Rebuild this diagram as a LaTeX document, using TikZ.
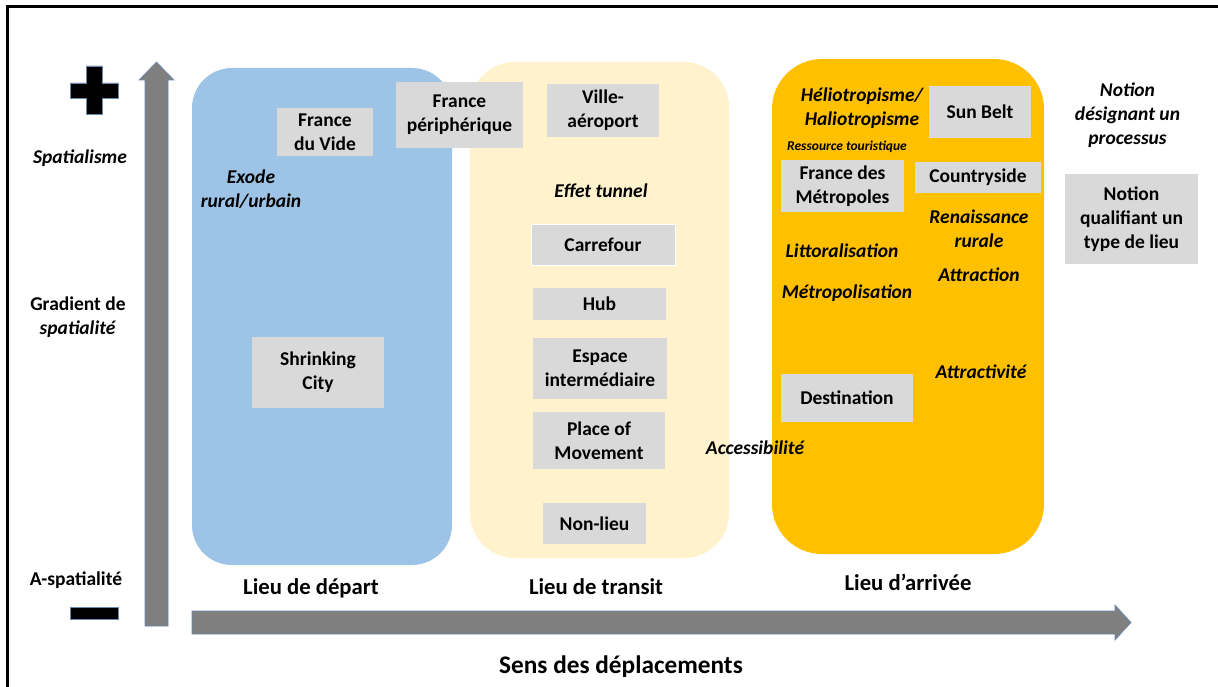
\documentclass[tikz,border=0pt]{standalone}
\usepackage{fontspec}
\setmainfont{Carlito}
\usepackage{tikz}
\definecolor{departblue}{RGB}{157,195,230}
\definecolor{transitcream}{RGB}{255,242,204}
\definecolor{arriveeorange}{RGB}{255,192,0}
\definecolor{notiongray}{RGB}{217,217,217}
\definecolor{blockgray}{RGB}{127,127,127}
\definecolor{blockedge}{RGB}{106,138,178}
\newcommand{\mainsize}{\fontsize{19.5}{24}\selectfont}
\tikzstyle{zone} = [rectangle, inner sep=0pt]
\tikzstyle{notion} = [rectangle, fill=notiongray, inner sep=0pt, align=center, font=\bfseries\mainsize]
\tikzstyle{process} = [inner sep=0pt, align=center, font=\bfseries\itshape\mainsize]
\tikzstyle{axislabel} = [inner sep=0pt, align=center, font=\bfseries\mainsize]
\tikzstyle{lieu} = [inner sep=0pt, font=\bfseries\fontsize{22.7}{26}\selectfont]
\tikzstyle{block} = [fill=blockgray, draw=blockedge, line width=0.6pt]

\begin{document}
\begin{tikzpicture}[x=1pt,y=-1pt]
            \useasboundingbox[fill=white] (0,0) rectangle (1218,687);
            \draw[line width=3pt] (7,687) -- (7,7) -- (1218,7);
            % zones
            \node(depart)[zone,fill=departblue,rounded corners=40pt,minimum width=260pt,minimum height=497pt] at (322,316.5) {};
            \node(transit)[zone,fill=transitcream,rounded corners=45pt,minimum width=259pt,minimum height=496pt] at (599.5,310) {};
            \node(arrivee)[zone,fill=arriveeorange,rounded corners=50pt,minimum width=272pt,minimum height=495pt] at (908,306.5) {};
            % axes
            \path[block] (145,626) -- (145,80) -- (139,80) -- (156.5,62) -- (174,80) -- (168,80) -- (168,626) -- cycle;
            \path[block] (192,611) -- (1115,611) -- (1115,605) -- (1131,622.5) -- (1115,640) -- (1115,634) -- (192,634) -- cycle;
            \path[fill=black,draw=blockedge,line width=0.6pt] (86,66) -- (102,66) -- (102,83) -- (118,83) -- (118,98) -- (102,98) -- (102,114) -- (86,114) -- (86,98) -- (70,98) -- (70,83) -- (86,83) -- cycle;
            \path[fill=black,draw=blockedge,line width=0.6pt] (70,607) rectangle (118,619);
            \node(spatialisme)[process] at (80,158) {Spatialisme};
            \node(gradient)[axislabel] at (78,317) {Gradient de\\\textit{spatialité}};
            \node(aspatialite)[axislabel] at (76,580) {A-spatialité};
            % lieu de depart
            \node(vide)[notion,minimum width=96pt,minimum height=48pt] at (325,132) {France\\du Vide};
            \node(exode)[process] at (251,189.5) {Exode\\rural/urbain};
            \node(shrinking)[notion,minimum width=132pt,minimum height=71pt] at (318,372.5) {Shrinking\\City};
            \node(peripherique)[notion,minimum width=127pt,minimum height=66pt] at (459.5,115) {France\\périphérique};
            % lieu de transit
            \node(aeroport)[notion,minimum width=112pt,minimum height=53pt] at (603,110.5) {Ville-\\aéroport};
            \node(tunnel)[process] at (601,191) {Effet tunnel};
            \node(carrefour)[notion,draw=white,minimum width=144pt,minimum height=41pt] at (603,244.5) {Carrefour};
            \node(hub)[notion,minimum width=133pt,minimum height=32pt] at (599.5,304) {Hub};
            \node(espace)[notion,minimum width=134pt,minimum height=61pt] at (600,368.5) {Espace\\intermédiaire};
            \node(movement)[notion,minimum width=132pt,minimum height=57pt] at (599,440.5) {Place of\\Movement};
            \node(nonlieu)[notion,minimum width=103pt,minimum height=41pt] at (594.5,523.5) {Non-lieu};
            \node(accessibilite)[process] at (755,448) {Accessibilité};
            % lieu d'arrivee
            \node(helio)[process] at (862,108) {Héliotropisme/\\Haliotropisme};
            \node(sunbelt)[notion,minimum width=102pt,minimum height=52pt] at (980,112) {Sun Belt};
            \node(ressource)[process,font=\bfseries\itshape\fontsize{13.5}{16}\selectfont] at (847,147) {Ressource touristique};
            \node(metropoles)[notion,minimum width=123pt,minimum height=52pt] at (842.5,186) {France des\\Métropoles};
            \node(countryside)[notion,minimum width=126pt,minimum height=31pt] at (978,177.5) {Countryside};
            \node(renaissance)[process] at (979,229) {Renaissance\\rurale};
            \node(littoral)[process] at (842,251) {Littoralisation};
            \node(attraction)[process] at (979,275) {Attraction};
            \node(metropolisation)[process] at (847,293) {Métropolisation};
            \node(attractivite)[process] at (981,372) {Attractivité};
            \node(destination)[notion,minimum width=132pt,minimum height=48pt] at (847,398) {Destination};
            % legende
            \node(legprocess)[process] at (1127.5,115) {Notion\\désignant un\\processus};
            \node(leglieu)[notion,minimum width=133pt,minimum height=90pt] at (1131.5,219) {Notion\\qualifiant un\\type de lieu};
            % lieux et sens
            \node(ldepart)[lieu] at (311,588) {Lieu de départ};
            \node(ltransit)[lieu] at (596,587) {Lieu de transit};
            \node(larrivee)[lieu] at (908,582) {Lieu d’arrivée};
            \node(sens)[lieu,font=\bfseries\fontsize{25.3}{28}\selectfont] at (621,667) {Sens des déplacements};
        \end{tikzpicture}
\end{document}
